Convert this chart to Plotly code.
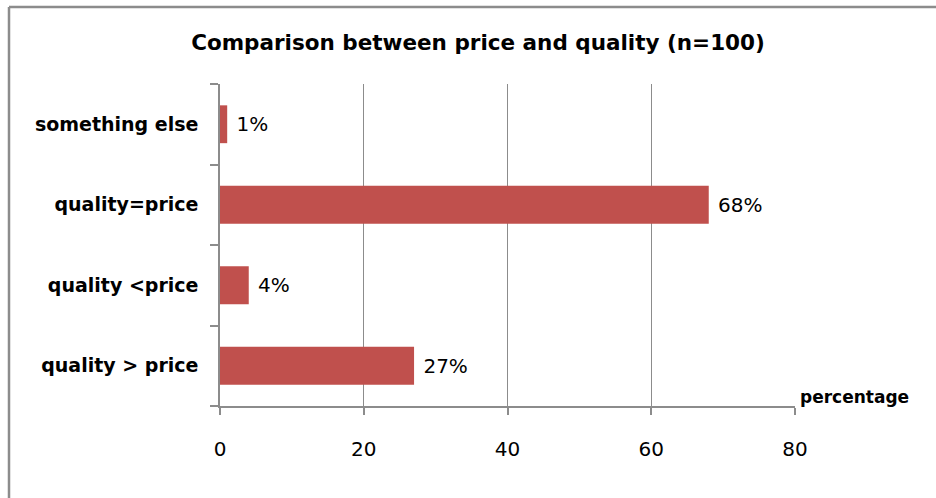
import plotly.graph_objects as go

# Survey answers (n=100), listed bottom to top
categories = ["quality > price", "quality <price", "quality=price", "something else"]
values = [27, 4, 68, 1]
x_ticks = [0, 20, 40, 60, 80]

W, H = 936, 498
L, R, T, B = 220, 141, 84, 92
plot_w = W - L - R
plot_h = H - T - B

FONT = "DejaVu Sans"

fig = go.Figure(
    go.Bar(
        x=values,
        y=categories,
        orientation="h",
        marker=dict(color="#C0504D", line=dict(width=0)),
        text=values,
        texttemplate=" %{text}%",
        textposition="outside",
        textfont=dict(family=FONT, size=20, color="#000000"),
        cliponaxis=False,
        hoverinfo="skip",
    )
)

grey = "#8C8C8C"

fig.update_layout(
    width=W,
    height=H,
    margin=dict(l=L, r=R, t=T, b=B),
    paper_bgcolor="white",
    plot_bgcolor="white",
    bargap=0.53,
    showlegend=False,
    title=dict(
        text="<b>Comparison between price and quality (n=100)</b>",
        font=dict(family=FONT, size=21.5, color="#000000"),
        x=478 / W,
        xanchor="center",
        xref="container",
        y=1 - 42 / H,
        yanchor="middle",
        yref="container",
    ),
    xaxis=dict(
        range=[0, 80],
        tickvals=x_ticks,
        ticktext=[str(v) for v in x_ticks],
        showgrid=True,
        gridcolor=grey,
        gridwidth=1,
        showline=True,
        linecolor=grey,
        linewidth=1.5,
        ticks="outside",
        ticklen=7,
        tickcolor=grey,
        tickwidth=1.5,
        ticklabelstandoff=17,
        tickfont=dict(family=FONT, size=20, color="#000000"),
        zeroline=False,
        fixedrange=True,
    ),
    yaxis=dict(
        categoryorder="array",
        categoryarray=categories,
        showline=True,
        linecolor=grey,
        linewidth=1.5,
        ticks="outside",
        tickson="boundaries",
        ticklen=8,
        tickcolor=grey,
        tickwidth=1.5,
        ticklabelstandoff=16,
        tickfont=dict(family=FONT, size=19, color="#000000", weight="bold"),
        showgrid=False,
        fixedrange=True,
    ),
    annotations=[
        dict(
            text="<b>percentage</b>",
            xref="paper",
            yref="paper",
            x=1.0,
            y=0.0,
            xshift=3,
            xanchor="left",
            yanchor="bottom",
            yshift=-3,
            showarrow=False,
            font=dict(family=FONT, size=17, color="#000000"),
        )
    ],
)

# Chart frame: left and top edges
left_px, top_px = 9, 7
fx = (left_px - L) / plot_w
fx_end = (W - L) / plot_w
fy = (H - B - top_px) / plot_h
fy_end = -B / plot_h
frame = dict(color=grey, width=2.5)
fig.add_shape(type="line", xref="paper", yref="paper",
              x0=fx, x1=fx, y0=fy_end, y1=fy, line=frame, layer="above")
fig.add_shape(type="line", xref="paper", yref="paper",
              x0=fx, x1=fx_end, y0=fy, y1=fy, line=frame, layer="above")

fig.write_html("out.html")
